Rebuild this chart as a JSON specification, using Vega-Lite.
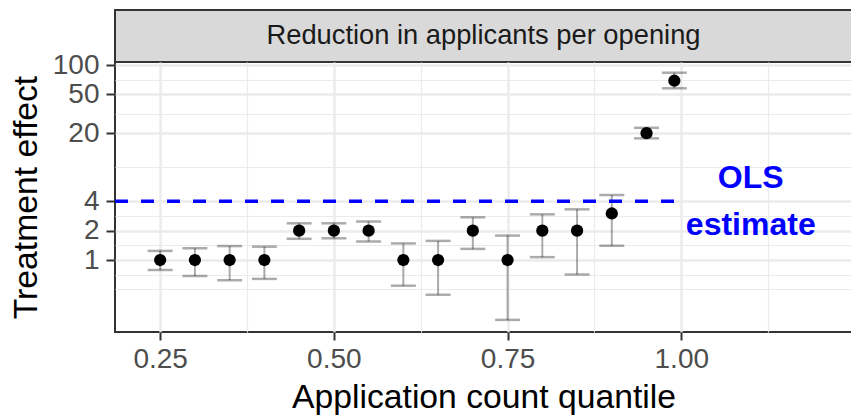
{
  "$schema": "https://vega.github.io/schema/vega-lite/v6.json",
  "background": "white",
  "padding": {"left": 8, "top": 9, "right": 0, "bottom": 0},
  "spacing": 0,
  "bounds": "flush",
  "config": {
    "font": "Liberation Sans",
    "axis": {
      "labelFont": "Liberation Sans",
      "titleFont": "Liberation Sans",
      "labelFontSize": 28,
      "titleFontSize": 33.7,
      "labelColor": "#4d4d4d",
      "titleColor": "#000000",
      "titleFontWeight": "normal",
      "domain": false,
      "tickColor": "#333333",
      "tickWidth": 2,
      "tickSize": 9,
      "gridColor": "#ebebeb",
      "labelOverlap": false,
      "labelFlush": false,
      "labelBound": false
    }
  },
  "vconcat": [
    {
      "width": 737,
      "height": 52,
      "view": {"fill": "#d9d9d9", "stroke": "#333333", "strokeWidth": 2},
      "data": {"values": [{"label": "Reduction in applicants per opening"}]},
      "mark": {"type": "text", "fontSize": 27.3, "color": "#1a1a1a", "font": "Liberation Sans"},
      "encoding": {"text": {"field": "label", "type": "nominal"}}
    },
    {
      "width": 737,
      "height": 270,
      "view": {"fill": "white", "stroke": "#333333", "strokeWidth": 2},
      "data": {"values": [
        {"x": 0.25, "y": 1, "lo": 0.79, "hi": 1.24},
        {"x": 0.30, "y": 1, "lo": 0.685, "hi": 1.32},
        {"x": 0.35, "y": 1, "lo": 0.62, "hi": 1.39},
        {"x": 0.40, "y": 1, "lo": 0.64, "hi": 1.37},
        {"x": 0.45, "y": 2, "lo": 1.65, "hi": 2.38},
        {"x": 0.50, "y": 2, "lo": 1.67, "hi": 2.38},
        {"x": 0.55, "y": 2, "lo": 1.55, "hi": 2.49},
        {"x": 0.60, "y": 1, "lo": 0.545, "hi": 1.48},
        {"x": 0.65, "y": 1, "lo": 0.44, "hi": 1.57},
        {"x": 0.70, "y": 2, "lo": 1.30, "hi": 2.74},
        {"x": 0.75, "y": 1, "lo": 0.243, "hi": 1.78},
        {"x": 0.80, "y": 2, "lo": 1.07, "hi": 2.94},
        {"x": 0.85, "y": 2, "lo": 0.71, "hi": 3.31},
        {"x": 0.90, "y": 3, "lo": 1.40, "hi": 4.64},
        {"x": 0.95, "y": 20, "lo": 17.7, "hi": 22.7},
        {"x": 0.99, "y": 69, "lo": 57.7, "hi": 83.4}
      ]},
      "encoding": {
        "x": {
          "field": "x", "type": "quantitative",
          "title": "Application count quantile",
          "scale": {"domain": [0.185, 1.2457], "nice": false, "zero": false},
          "axis": {
            "values": [0.25, 0.375, 0.5, 0.625, 0.75, 0.875, 1, 1.125],
            "labelExpr": "indexof([0.25,0.5,0.75,1], datum.value) >= 0 ? format(datum.value, '.2f') : ''",
            "tickOpacity": {"condition": {"test": "indexof([0.25,0.5,0.75,1], datum.value) >= 0", "value": 1}, "value": 0},
            "gridWidth": {"condition": {"test": "indexof([0.25,0.5,0.75,1], datum.value) >= 0", "value": 2.4}, "value": 1.2},
            "tickSize": 8,
            "labelPadding": 5,
            "titlePadding": 7
          }
        },
        "y": {
          "field": "y", "type": "quantitative",
          "title": "Treatment effect",
          "scale": {"type": "log", "domain": [0.1826, 107.4], "nice": false},
          "axis": {
            "values": [0.5, 0.7071, 1, 1.4142, 2, 2.8284, 4, 8.944, 20, 31.62, 50, 70.71, 100],
            "labelExpr": "indexof([1,2,4,20,50,100], datum.value) >= 0 ? format(datum.value, 'd') : ''",
            "tickOpacity": {"condition": {"test": "indexof([1,2,4,20,50,100], datum.value) >= 0", "value": 1}, "value": 0},
            "gridWidth": {"condition": {"test": "indexof([1,2,4,20,50,100], datum.value) >= 0", "value": 2.4}, "value": 1.2},
            "labelPadding": 7,
            "titlePadding": 9
          }
        }
      },
      "layer": [
        {
          "mark": {"type": "rule", "color": "black", "opacity": 0.33, "strokeWidth": 2},
          "encoding": {
            "y": {"field": "lo", "type": "quantitative", "title": "Treatment effect"},
            "y2": {"field": "hi"}
          }
        },
        {
          "mark": {"type": "tick", "orient": "horizontal", "size": 25, "thickness": 2.5, "color": "black", "opacity": 0.33},
          "encoding": {
            "y": {"field": "lo", "type": "quantitative", "title": "Treatment effect"}
          }
        },
        {
          "mark": {"type": "tick", "orient": "horizontal", "size": 25, "thickness": 2.5, "color": "black", "opacity": 0.33},
          "encoding": {
            "y": {"field": "hi", "type": "quantitative", "title": "Treatment effect"}
          }
        },
        {
          "mark": {"type": "point", "filled": true, "color": "black", "opacity": 1, "size": 150}
        },
        {
          "data": {"values": [{"x": 0.185, "x2": 0.99, "y": 4}]},
          "mark": {"type": "rule", "color": "#0000ff", "strokeWidth": 3.6, "strokeDash": [13, 13]},
          "encoding": {
            "x2": {"field": "x2"}
          }
        },
        {
          "data": {"values": [{"x": 1.1, "y": 4, "label": "OLS\nestimate"}]},
          "mark": {"type": "text", "color": "#0000ff", "fontSize": 32, "fontWeight": "bold", "font": "Liberation Sans", "lineBreak": "\n", "lineHeight": 47, "align": "center", "baseline": "middle", "dy": -23.5},
          "encoding": {
            "text": {"field": "label", "type": "nominal"}
          }
        }
      ]
    }
  ]
}
